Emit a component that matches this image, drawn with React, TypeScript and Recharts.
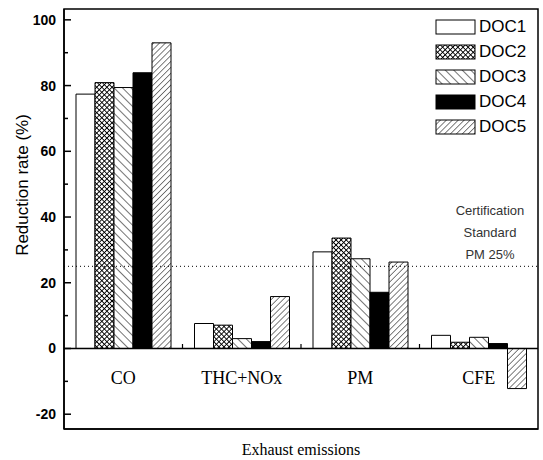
import React from 'react';
import {
  BarChart,
  Bar,
  XAxis,
  YAxis,
  ReferenceLine,
  ReferenceArea,
} from 'recharts';

const categories = ['CO', 'THC+NOx', 'PM', 'CFE'];
const seriesNames = ['DOC1', 'DOC2', 'DOC3', 'DOC4', 'DOC5'];
const doc1 = [77.4, 7.6, 29.4, 4.0];
const doc2 = [80.9, 7.1, 33.6, 1.9];
const doc3 = [79.4, 3.0, 27.3, 3.4];
const doc4 = [83.9, 2.1, 17.1, 1.5];
const doc5 = [93.0, 15.8, 26.3, -12.2];
const yTicks = [-20, -10, 0, 10, 20, 30, 40, 50, 60, 70, 80, 90, 100];
const yDomain = [-24.5, 103.3];
const standardLevel = 25;
const standardText = ['Certification', 'Standard', 'PM 25%'];

const seriesValues = [doc1, doc2, doc3, doc4, doc5];
const data = categories.map((name, i) => {
  const row: Record<string, string | number> = { name };
  seriesNames.forEach((s, j) => {
    row[s] = seriesValues[j][i];
  });
  return row;
});

const fills: Record<string, string> = {
  DOC1: '#ffffff',
  DOC2: 'url(#pat-cross)',
  DOC3: 'url(#pat-back)',
  DOC4: '#000000',
  DOC5: 'url(#pat-fwd)',
};

const sans = '"Liberation Sans", Arial, sans-serif';
const serif = '"Liberation Serif", "Times New Roman", serif';

function Patterns() {
  return (
    <svg width={0} height={0} style={{ position: 'absolute' }}>
      <defs>
        <pattern id="pat-cross" width={3.6} height={3.6} patternUnits="userSpaceOnUse" patternTransform="rotate(45)">
          <rect width={3.6} height={3.6} fill="#fff" />
          <line x1={0} y1={0} x2={0} y2={3.6} stroke="#000" strokeWidth={1.8} />
          <line x1={0} y1={0} x2={3.6} y2={0} stroke="#000" strokeWidth={1.8} />
        </pattern>
        <pattern id="pat-back" width={6} height={6} patternUnits="userSpaceOnUse" patternTransform="rotate(-45)">
          <rect width={6} height={6} fill="#fff" />
          <line x1={0} y1={0} x2={0} y2={6} stroke="#000" strokeWidth={1.1} />
        </pattern>
        <pattern id="pat-fwd" width={4.2} height={4.2} patternUnits="userSpaceOnUse" patternTransform="rotate(45)">
          <rect width={4.2} height={4.2} fill="#fff" />
          <line x1={0} y1={0} x2={0} y2={4.2} stroke="#000" strokeWidth={1} />
        </pattern>
      </defs>
    </svg>
  );
}

// y-axis tick: label on the left, tick mark pointing into the plot
function YTick(props: any) {
  const { x, y, payload } = props;
  const v = payload.value as number;
  const major = v % 20 === 0;
  return (
    <g>
      <line x1={x} y1={y} x2={x + (major ? 7 : 4)} y2={y} stroke="#000" strokeWidth={1.5} />
      {major && (
        <text x={x - 8} y={y + 5} textAnchor="end" fontFamily={sans} fontWeight="bold" fontSize={14} fill="#000">
          {v}
        </text>
      )}
    </g>
  );
}

// category labels sit just under the zero line, inside the plot
function CatTick(props: any) {
  const { x, y, payload, index, width, visibleTicksCount } = props;
  const band = width && visibleTicksCount ? width / visibleTicksCount : 118;
  const zeroY = y - 81;
  return (
    <g>
      <text x={x} y={y - 45} textAnchor="middle" fontFamily={serif} fontSize={18} fill="#000">
        {payload.value}
      </text>
      {index < categories.length - 1 && (
        <line x1={x + band / 2} y1={zeroY} x2={x + band / 2} y2={zeroY - 4} stroke="#000" strokeWidth={1.2} />
      )}
    </g>
  );
}

function LegendBox() {
  return (
    <div style={{ position: 'absolute', left: 435, top: 14, width: 105 }}>
      {seriesNames.map((s) => (
        <div key={s} style={{ display: 'flex', alignItems: 'center', height: 25 }}>
          <svg width={42} height={16} style={{ display: 'block' }}>
            <rect x={1} y={1} width={39} height={14} fill={fills[s]} stroke="#000" strokeWidth={1} />
          </svg>
          <span style={{ fontFamily: sans, fontSize: 17, color: '#000', marginLeft: 2, lineHeight: '25px' }}>{s}</span>
        </div>
      ))}
    </div>
  );
}

function StandardLabel(props: any) {
  const { viewBox } = props;
  const cx = viewBox.x + viewBox.width - 48;
  return (
    <g>
      {standardText.map((t, i) => (
        <text
          key={t}
          x={cx}
          y={viewBox.y - 51 + i * 22}
          textAnchor="middle"
          fontFamily={sans}
          fontSize={13}
          fill="#333"
        >
          {t}
        </text>
      ))}
    </g>
  );
}

export default function App() {
  return (
    <div style={{ position: 'absolute', left: 0, top: 0, width: 543, height: 460, background: '#fff' }}>
      <Patterns />
      <BarChart
        width={543}
        height={460}
        data={data}
        margin={{ top: 9, right: 5, bottom: 0, left: 0 }}
        barGap={0}
        barCategoryGap={12}
      >
        <XAxis
          dataKey="name"
          height={31}
          tickSize={0}
          tickMargin={0}
          tickLine={false}
          axisLine={{ stroke: '#000', strokeWidth: 1.5 }}
          tick={<CatTick />}
          interval={0}
          label={{
            value: 'Exhaust emissions',
            position: 'insideBottom',
            offset: 5,
            style: { fontFamily: serif, fontSize: 16, fill: '#000' },
          }}
        />
        <YAxis
          width={64}
          domain={yDomain}
          ticks={yTicks}
          interval={0}
          tickSize={0}
          tickMargin={0}
          tickLine={false}
          axisLine={{ stroke: '#000', strokeWidth: 1.5 }}
          tick={<YTick />}
          label={{
            content: (p: any) => {
              const vb = p.viewBox;
              const lx = 22;
              const ly = vb.y + vb.height / 2 - 34;
              return (
                <text
                  x={lx}
                  y={ly}
                  transform={`rotate(-90 ${lx} ${ly})`}
                  textAnchor="middle"
                  dominantBaseline="central"
                  fontFamily={sans}
                  fontSize={17}
                  fill="#000"
                >
                  Reduction rate (%)
                </text>
              );
            },
          }}
        />
        {/* plot frame */}
        <ReferenceArea
          y1={yDomain[0]}
          y2={yDomain[1]}
          fill="none"
          stroke="#000"
          strokeWidth={1.5}
          ifOverflow="extendDomain"
        />
        <ReferenceLine
          y={standardLevel}
          stroke="#000"
          strokeWidth={1}
          strokeDasharray="1 3"
          label={<StandardLabel />}
        />
        {seriesNames.map((s) => (
          <Bar
            key={s}
            dataKey={s}
            fill={fills[s]}
            stroke="#000"
            strokeWidth={1}
            isAnimationActive={false}
          />
        ))}
        <ReferenceLine y={0} stroke="#000" strokeWidth={1.5} />
      </BarChart>
      <LegendBox />
    </div>
  );
}
